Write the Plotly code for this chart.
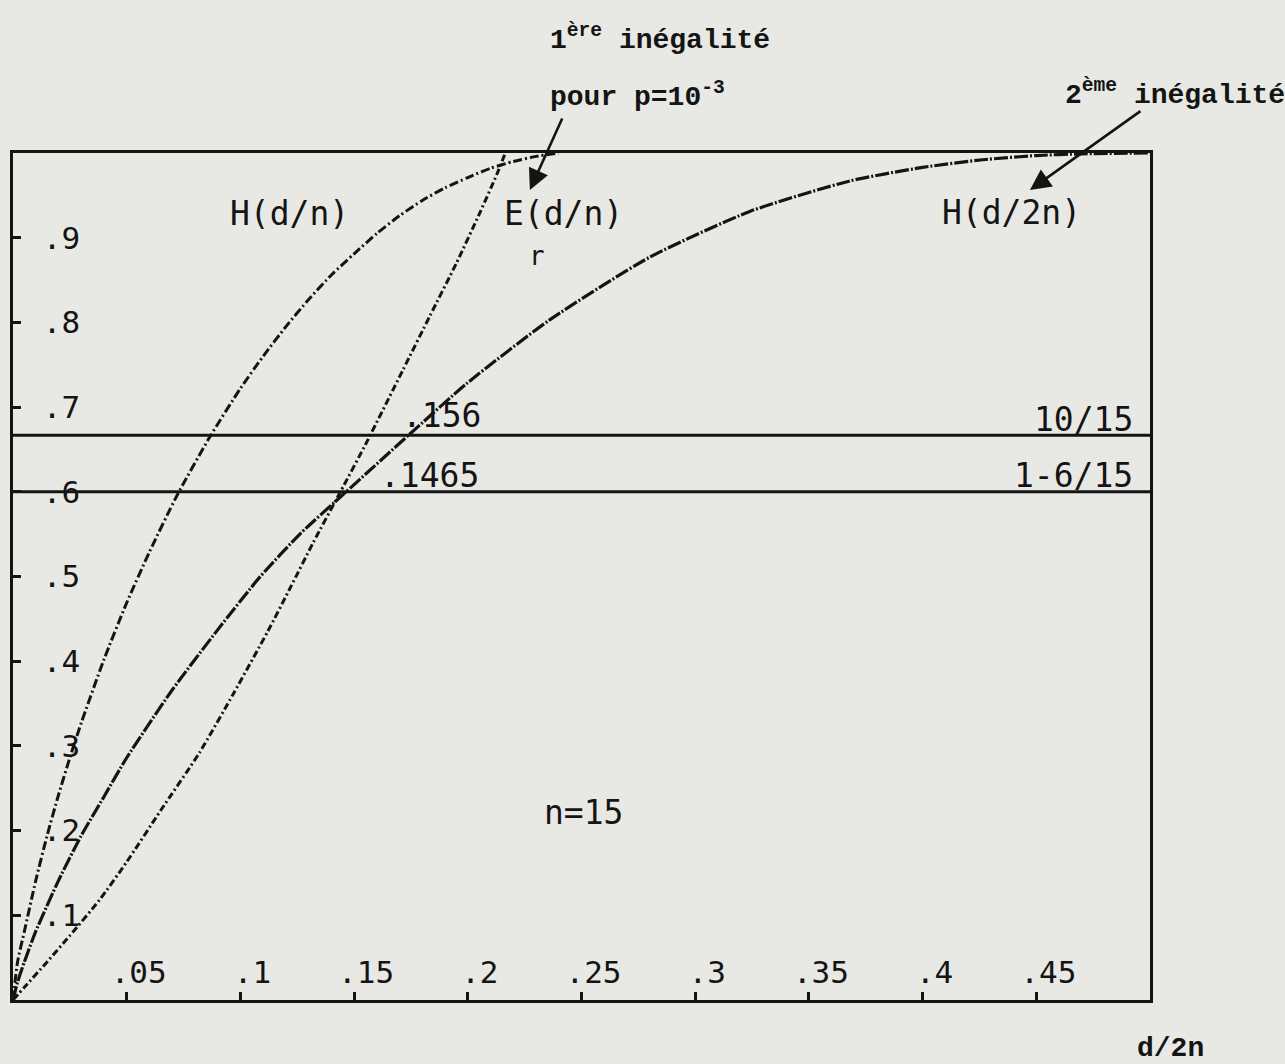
import plotly.graph_objects as go

# ---------------- data ----------------
# x axis: d/2n ; y axis: value
x_tickvals = [0.05, 0.10, 0.15, 0.20, 0.25, 0.30, 0.35, 0.40, 0.45, 0.50]
x_ticktext = [".05", ".1", ".15", ".2", ".25", ".3", ".35", ".4", ".45", "."]
y_tickvals = [0.1, 0.2, 0.3, 0.4, 0.5, 0.6, 0.7, 0.8, 0.9, 1.0]
y_ticktext = [".1", ".2", ".3", ".4", ".5", ".6", ".7", ".8", ".9", "."]

# H(d/n)
hdn_x = [0, 0.002, 0.005, 0.01, 0.015, 0.02, 0.025, 0.03, 0.04, 0.05, 0.06, 0.072,
         0.0866, 0.10, 0.11, 0.12, 0.13, 0.14, 0.15, 0.16, 0.17, 0.18, 0.19,
         0.20, 0.21, 0.22, 0.23, 0.24]
hdn_y = [0, 0.045, 0.081, 0.141, 0.194, 0.242, 0.286, 0.327, 0.402, 0.469, 0.529,
         0.595, 0.665, 0.722, 0.760, 0.795, 0.827, 0.856, 0.881, 0.905, 0.926,
         0.944, 0.959, 0.971, 0.982, 0.990, 0.996, 1.0]

# E_r(d/n)
e_x = [0, 0.005, 0.015, 0.025, 0.038, 0.05, 0.065, 0.082, 0.097, 0.112, 0.122,
       0.132, 0.144, 0.156, 0.1715, 0.1834, 0.195, 0.2054, 0.2128, 0.2165]
e_y = [0, 0.015, 0.045, 0.076, 0.118, 0.163, 0.224, 0.292, 0.362, 0.435, 0.487,
       0.540, 0.600, 0.661, 0.744, 0.808, 0.870, 0.930, 0.975, 1.0]

# H(d/2n)
h2n_x = [0, 0.002, 0.005, 0.01, 0.02, 0.03, 0.04, 0.05, 0.07, 0.09, 0.1086,
         0.1265, 0.1465, 0.174, 0.1996, 0.236, 0.28, 0.324, 0.368, 0.40, 0.4264,
         0.45, 0.47, 0.50]
h2n_y = [0, 0.021, 0.045, 0.081, 0.141, 0.194, 0.240, 0.286, 0.366, 0.437, 0.4995,
         0.551, 0.600, 0.667, 0.728, 0.803, 0.877, 0.931, 0.967, 0.983, 0.992,
         0.997, 0.999, 1.0]

# horizontal reference levels
level_names = ["10/15", "1-6/15"]
level_values = [10 / 15, 1 - 6 / 15]
level_x = [0, 0.5]

INK = "#141414"
PAPER = "#e8e8e5"
PLOT_FONT = "DejaVu Sans Mono"
TYPE_FONT = "Liberation Mono"

fig = go.Figure()

fig.add_trace(go.Scatter(x=hdn_x, y=hdn_y, mode="lines",
                         line=dict(color=INK, width=3, dash="9px,3px,2px,3px",
                                   shape="spline", smoothing=0.6),
                         name="H(d/n)", showlegend=False))
fig.add_trace(go.Scatter(x=e_x, y=e_y, mode="lines",
                         line=dict(color=INK, width=3, dash="7px,3px,2px,3px",
                                   shape="spline", smoothing=0.6),
                         name="E(d/n)", showlegend=False))
fig.add_trace(go.Scatter(x=h2n_x, y=h2n_y, mode="lines",
                         line=dict(color=INK, width=3.2, dash="14px,2px,2px,2px",
                                   shape="spline", smoothing=0.6),
                         name="H(d/2n)", showlegend=False))
for nm, v in zip(level_names, level_values):
    fig.add_trace(go.Scatter(x=level_x, y=[v, v], mode="lines",
                             line=dict(color=INK, width=3),
                             name=nm, showlegend=False))

def txt(x, y, s, size=33, font=PLOT_FONT, xanchor="center", yanchor="middle",
        bold=False, ref="data"):
    if ref == "paper":
        xr, yr, xv, yv = "paper", "paper", x / 0.5, y
    else:
        xr, yr, xv, yv = "x", "y", x, y
    fig.add_annotation(x=xv, y=yv, xref=xr, yref=yr, text=s, showarrow=False,
                       xanchor=xanchor, yanchor=yanchor,
                       font=dict(family=font, size=size, color=INK,
                                 weight="bold" if bold else "normal"))

txt(0.1218, 0.928, "H(d/n)")
txt(0.2423, 0.929, "E(d/n)")
txt(0.2304, 0.878, "r", size=26)
txt(0.4389, 0.930, "H(d/2n)")
txt(0.1702, 0.6895, ".156", xanchor="left")
txt(0.1605, 0.6198, ".1465", xanchor="left")
txt(0.4934, 0.6848, "10/15", xanchor="right")
txt(0.4934, 0.6198, "1-6/15", xanchor="right")
txt(0.2507, 0.2208, "n=15")

# typed annotations outside the plot area (paper-referenced)
txt(0.2353, 1.136, "1<sup>ère</sup> inégalité", size=28, font=TYPE_FONT,
    xanchor="left", bold=True, ref="paper")
txt(0.2353, 1.068, "pour p=10<sup>-3</sup>", size=28, font=TYPE_FONT,
    xanchor="left", bold=True, ref="paper")
txt(0.4617, 1.071, "2<sup>ème</sup> inégalité", size=28, font=TYPE_FONT,
    xanchor="left", bold=True, ref="paper")
txt(0.5088, -0.0567, "d/2n", size=28, font=TYPE_FONT, bold=True, ref="paper")

# arrows
for tx, ty, ax, ay in [(0.2273, 0.9563, 33, -73), (0.4472, 0.9563, 112, -80)]:
    fig.add_annotation(x=tx, y=ty, xref="x", yref="y", text="", showarrow=True,
                       ax=ax, ay=ay, arrowhead=2, arrowsize=1.6, arrowwidth=2.6,
                       arrowcolor=INK)

axis_common = dict(showgrid=False, zeroline=False, showline=True, mirror=True,
                   linecolor=INK, linewidth=3, ticks="inside", ticklen=8,
                   tickwidth=2.5, tickcolor=INK, ticklabelposition="inside",
                   tickfont=dict(family=PLOT_FONT, size=31, color=INK))

fig.update_xaxes(range=[0, 0.5], tickmode="array", tickvals=x_tickvals,
                 ticktext=x_ticktext, ticklabelstandoff=6, ticklabelshift=12,
                 **axis_common)
fig.update_yaxes(range=[0, 1], tickmode="array", tickvals=y_tickvals,
                 ticktext=y_ticktext, ticklabelstandoff=25, **axis_common)

fig.update_layout(width=1285, height=1064,
                  margin=dict(l=13, r=135, t=153, b=64),
                  paper_bgcolor=PAPER, plot_bgcolor=PAPER,
                  showlegend=False)

fig.write_html("out.html", config={"displayModeBar": False},
               post_script="document.body.style.margin='0px';"
                           "document.body.style.background='" + PAPER + "';")
